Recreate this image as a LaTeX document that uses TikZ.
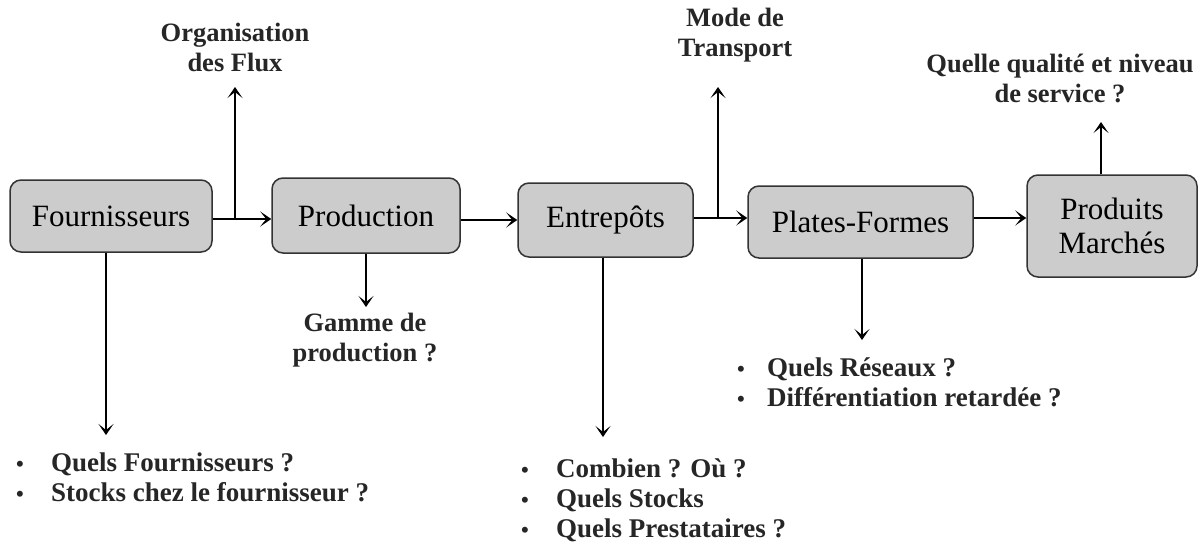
\documentclass[tikz,border=0pt]{standalone}
\usepackage{fontspec}
\setmainfont{Liberation Serif}
\usetikzlibrary{arrows.meta}
\tikzset{arr/.style={line width=1.8pt, -{Stealth[length=11pt,width=15pt,inset=6pt]}}}
\begin{document}
\begin{tikzpicture}[x=1pt,y=-1pt,
  box/.style={draw=black!80, line width=1.5pt, fill=black!20, rounded corners=11pt,
    font=\fontsize{31}{34}\selectfont, align=center, inner sep=0pt},
  lbl/.style={font=\bfseries\fontsize{26.5}{30}\selectfont, align=center, inner sep=0pt, text=black!85},
  lst/.style={font=\bfseries\fontsize{27}{30}\selectfont, align=left, inner sep=0pt, anchor=west, text=black!85}]
\useasboundingbox[fill=white] (0,0) rectangle (1201,549);
\newcommand{\bl}[1]{\makebox[#1][l]{\fontsize{22}{22}\selectfont\textbullet}}

% boxes
\node[box, minimum width=202pt, minimum height=72pt] (f) at (111,216) {Fournisseurs};
\node[box, minimum width=188pt, minimum height=75pt] (p) at (366,215.5) {Production};
\node[box, minimum width=175pt, minimum height=74pt] (e) at (605.5,220) {Entrepôts};
\node[box, minimum width=225pt, minimum height=72pt] (pf) at (860.5,222) {Plates-Formes};
\node[box, minimum width=170pt, minimum height=102pt] (pm) at (1112,226) {Produits\\Marchés};

% labels
\node[lbl] (org) at (235,47) {Organisation\\des Flux};
\node[lbl] (mode) at (735,35) {Mode de\\Transport};
\node[lbl] (gam) at (365,340) {Gamme de\\production ?};
\node[lbl] (qual) at (1060,78) {Quelle qualité et niveau\\de service ?};
\node[lst] (lf) at (16,477) {\bl{35pt}Quels Fournisseurs ?\\\bl{35pt}Stocks chez le fournisseur ?};
\node[lst] (le) at (521,500) {\bl{35pt}Combien ? Où ?\\\bl{35pt}Quels Stocks\\\bl{35pt}Quels Prestataires ?};
\node[lst] (lp) at (737,382) {\bl{30pt}Quels Réseaux ?\\\bl{30pt}Différentiation retardée ?};

% junctions and free ends
\coordinate (j1) at (235,219);
\coordinate (j2) at (718,218);
\coordinate (t1) at (235,87);
\coordinate (t2) at (718,87);
\coordinate (tf) at (106,435);
\coordinate (tp) at (366,307);
\coordinate (te) at (603,437);
\coordinate (tpf) at (862,340);
\coordinate (tpm) at (1101,122);

% connectors
\draw[arr] (f.east |- j1) -- (p.west |- j1);
\draw[arr] (j1) -- (t1);
\draw[arr] (p.east |- 0,220) -- (e.west |- 0,220);
\draw[arr] (e.east |- j2) -- (pf.west |- j2);
\draw[arr] (j2) -- (t2);
\draw[arr] (pf.east |- 0,218) -- (pm.west |- 0,218);
\draw[arr] (f.south -| tf) -- (tf);
\draw[arr] (p.south -| tp) -- (tp);
\draw[arr] (e.south -| te) -- (te);
\draw[arr] (pf.south -| tpf) -- (tpf);
\draw[arr] (pm.north -| tpm) -- (tpm);
\end{tikzpicture}
\end{document}
